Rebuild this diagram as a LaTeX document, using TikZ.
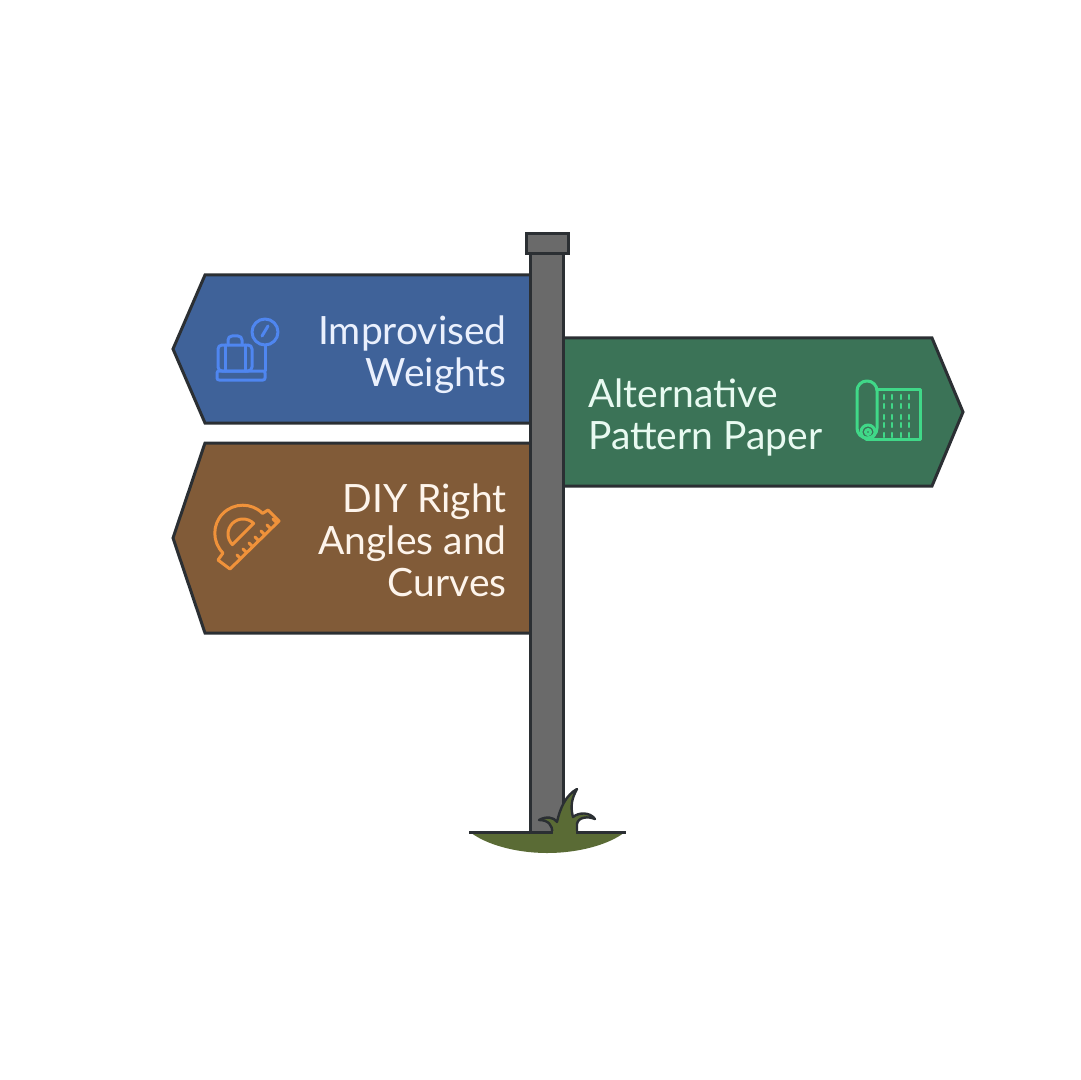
\documentclass[tikz,border=0pt]{standalone}
\usepackage{fontspec}
\usetikzlibrary{calc}
\setmainfont{Lato}
\definecolor{signblue}{HTML}{3F6299}
\definecolor{signbrown}{HTML}{815B38}
\definecolor{signgreen}{HTML}{3B7357}
\definecolor{iconblue}{HTML}{4F86F0}
\definecolor{iconorange}{HTML}{F0923A}
\definecolor{icongreen}{HTML}{40D888}
\definecolor{postgray}{HTML}{6A6A6A}
\definecolor{edgedark}{HTML}{2B2F33}
\definecolor{grassgreen}{HTML}{5A6B35}
\begin{document}
\begin{tikzpicture}[x=0.5pt,y=-0.5pt]
\tikzset{
    sign style/.style={draw=edgedark,line width=1.5pt,line join=miter},
    post style/.style={draw=edgedark,line width=1.5pt,fill=postgray},
    label style/.style={font=\fontsize{19.5}{21}\selectfont,inner sep=0pt},
    icon style/.style={line width=1.5pt,line join=round,line cap=round}
}
  \useasboundingbox (0,0) rectangle (1080,1080);
  % signs
  \draw[sign style,fill=signblue] (532,275) -- (205,275) -- (173,349) -- (205,423) -- (532,423);
  \draw[sign style,fill=signbrown] (532,443) -- (205,443) -- (173,538) -- (205,633) -- (532,633);
  \draw[sign style,fill=signgreen] (562,338) -- (932,338) -- (963,412) -- (932,486) -- (562,486);
  % post
  \draw[post style] (530.5,254) rectangle (563,832);
  \draw[post style] (526,233.5) rectangle (568,254);
  % ground
  \fill[grassgreen] (470,832) .. controls (485,844) and (515,853) .. (547,853) .. controls (580,853) and (610,844) .. (625,832) -- cycle;
  \draw[edgedark,line width=1.5pt] (469,832) -- (626,832);
  \draw[edgedark,line width=1.2pt,line join=round,fill=grassgreen] (552,833) .. controls (553,825) and (548,820) .. (539,820)
    .. controls (546,816) and (554,817) .. (557,822) .. controls (560,808) and (566,795) .. (577,789)
    .. controls (572,798) and (570,806) .. (573,817) .. controls (579,812) and (590,812) .. (595,819)
    .. controls (588,816) and (578,817) .. (577,824) -- (577,833);
  \fill[grassgreen] (553,831) rectangle (576,836);
  % labels
  \node[label style,text=white!88!iconblue,align=right,anchor=north east] (weights) at (507,315) {Improvised\\Weights};
  \node[label style,text=white!90!iconorange,align=right,anchor=north east] (angles) at (507,483) {DIY Right\\Angles and\\Curves};
  \node[label style,text=white!88!icongreen,align=left,anchor=north west] (paper) at (588,378) {Alternative\\Pattern Paper};
  % scale icon
  \begin{scope}[icon style,draw=iconblue]
    \draw (265,332) circle (13);
    \draw (265,345) -- (265,371);
    \draw (268,326) -- (262,336);
    \draw[rounded corners=2pt] (218,345) rectangle (252,371);
    \draw (225,345) -- (225,371) (245,345) -- (245,371);
    \draw[rounded corners=2pt] (228,345) -- (228,336) -- (242,336) -- (242,345);
    \draw[rounded corners=1pt] (217,371) rectangle (265,380);
  \end{scope}
  % protractor icon
  \begin{scope}[icon style,draw=iconorange]
    \draw (223,553) arc (135:315:28) -- (268,510) -- (279,521) -- (230,569) -- (218,560) -- cycle;
    \draw (232.4,544.6) arc (135:315:15) -- cycle;
    \foreach \t in {0.24,0.36,...,0.96}
      \draw ($(218,560)!\t!(268,510)+(7,7)$) -- ($(218,560)!\t!(268,510)+(10,10)$);
  \end{scope}
  % roll icon
  \begin{scope}[icon style,draw=icongreen]
    \draw[rounded corners=4.9pt] (857,438) -- (857,381) -- (877,381) -- (877,438) -- cycle;
    \draw (868,432) circle (7);
    \draw (868,432) circle (2.5);
    \draw (877,389) -- (920,389) -- (920,439) -- (866,439);
    \foreach \x in {884,892,901,909}
      \foreach \y in {397,406,417,425,435}
        \draw[line width=1.1pt] (\x,\y-2) -- (\x,\y+2);
  \end{scope}
\end{tikzpicture}
\end{document}
